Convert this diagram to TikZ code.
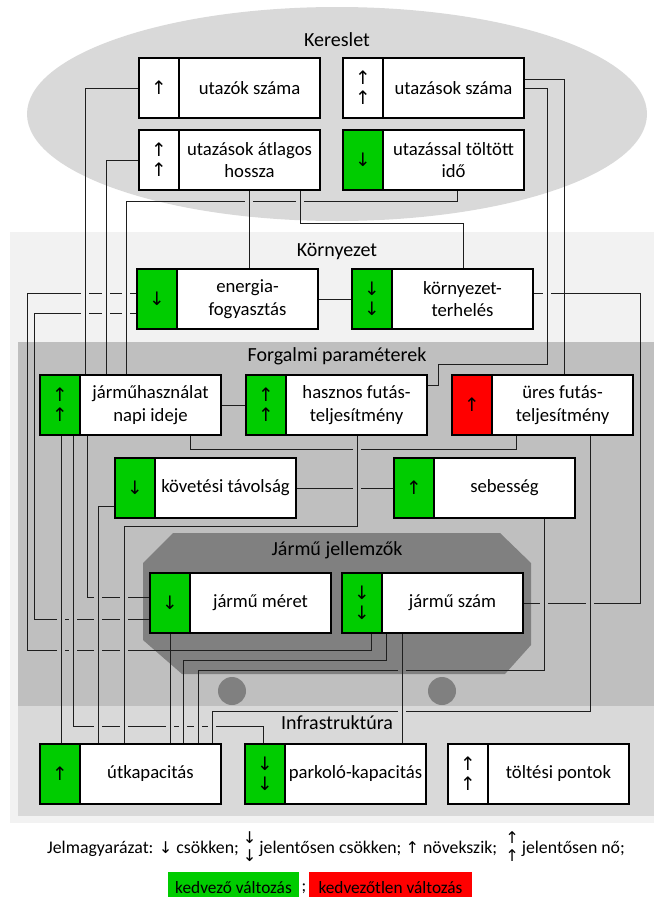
\documentclass[tikz,border=0pt]{standalone}
\usepackage{fontspec}
\setmainfont{Carlito}
\newfontfamily\arw[Scale=1.2]{DejaVu Sans}
\usetikzlibrary{calc}
\pgfdeclarelayer{back}
\pgfdeclarelayer{wires}
\pgfsetlayers{back,wires,main}

\definecolor{fav}{RGB}{0,204,0}
\definecolor{unfav}{RGB}{255,0,0}
\definecolor{demandbg}{RGB}{217,217,217}
\definecolor{envbg}{RGB}{242,242,242}
\definecolor{trafbg}{RGB}{191,191,191}
\definecolor{infbg}{RGB}{217,217,217}
\definecolor{vehbg}{RGB}{128,128,128}
\definecolor{linkcol}{RGB}{30,30,30}

\newcommand\upa{{\arw ↑}}
\newcommand\dna{{\arw ↓}}
% smaller arrows for the key line
\newcommand\kupa{{\fontsize{13.5}{18}\arw ↑}}
\newcommand\kdna{{\fontsize{13.5}{18}\arw ↓}}
\newcommand\arrowstack[2]{\begin{tabular}{@{}c@{}}#1\\[-2pt]#2\end{tabular}}

\tikzset{
  factor/.style={draw=black, line width=1.1pt, fill=white, minimum width=181pt,
    minimum height=60pt, anchor=north west, inner sep=0pt, outer sep=0pt},
  ftext/.style={font=\fontsize{18.7}{22.5}\selectfont, align=center, inner sep=0pt},
  trendmark/.style={font=\fontsize{15.5}{20}\arw, align=center, inner sep=0pt},
  bandtitle/.style={font=\fontsize{20}{24}\selectfont, inner sep=0pt},
  link/.style={draw=linkcol, line width=1pt},
  legtext/.style={font=\fontsize{17.8}{20}\selectfont, inner sep=0pt},
  legbox/.style={font=\fontsize{17.3}{20}\selectfont, inner sep=0pt},
}

% one factor: name, top-left x, top-left y, marker fill, trend arrows, label
\newcommand\factorbox[6]{%
  \node[factor] (#1) at (#2,#3) {};
  \fill[#4] (#1.north west) rectangle ($(#1.south west)+(40,0)$);
  \draw[line width=1.1pt] (#1.north west) rectangle (#1.south east);
  \draw[line width=1.1pt] ($(#1.north west)+(40,0)$) -- ($(#1.south west)+(40,0)$);
  \node[trendmark] at ($(#1.west)+(20,0)$) {#5};
  \node[ftext] at ($(#1.center)+(20,0)$) {#6};
}

% break a horizontal link where a vertical link passes over it
\newcommand\wirehop[3]{%
  \fill[#3] (#1-4,#2-1.7) rectangle (#1+4,#2+1.7);
  \draw[link] (#1,#2-4) -- (#1,#2+4);
}

\begin{document}
\begin{tikzpicture}[x=1pt,y=-1pt]
\useasboundingbox (0,0) rectangle (654,897);

% ---------- regions ----------
\begin{pgfonlayer}{back}
  \fill[demandbg] (337,114) ellipse [x radius=310, y radius=107];
  \fill[envbg] (10,232) rectangle (654,823);
  \fill[trafbg] (18,342) rectangle (654,706);
  \fill[infbg] (18,706) rectangle (654,816);
  \fill[vehbg] (173,533) -- (500,533) -- (531,563) -- (531,645) -- (505,674)
    -- (182,674) -- (143,640) -- (143,563) -- cycle;
  \fill[vehbg] (232,691) circle [radius=14];
  \fill[vehbg] (442,691) circle [radius=14];
\end{pgfonlayer}

\node[bandtitle] (tdemand) at (337,40) {Kereslet};
\node[bandtitle] (tenv) at (337,251) {Környezet};
\node[bandtitle] (ttraffic) at (337,356) {Forgalmi paraméterek};
\node[bandtitle] (tvehicle) at (337,550) {Jármű jellemzők};
\node[bandtitle] (tinfra) at (337,723) {Infrastruktúra};

% ---------- factors ----------
\factorbox{uszam}{139}{58}{white}{\upa}{utazók száma}
\factorbox{uaszam}{343}{58}{white}{\upa\\\upa}{utazások száma}
\factorbox{hossz}{139}{130}{white}{\upa\\\upa}{utazások átlagos\\hossza}
\factorbox{ido}{343}{130}{fav}{\dna}{utazással töltött\\idő}
\factorbox{energia}{137}{269}{fav}{\dna}{energia-\\fogyasztás}
\factorbox{kornyezet}{352}{269}{fav}{\dna\\\dna}{környezet-\\terhelés}
\factorbox{hasznalat}{40}{375}{fav}{\upa\\\upa}{járműhasználat\\napi ideje}
\factorbox{hasznos}{246}{375}{fav}{\upa\\\upa}{hasznos futás-\\teljesítmény}
\factorbox{ures}{452}{375}{unfav}{\upa}{üres futás-\\teljesítmény}
\factorbox{kovetesi}{115}{458}{fav}{\dna}{követési távolság}
\factorbox{sebesseg}{394}{458}{fav}{\upa}{sebesség}
\factorbox{meret}{150}{573}{fav}{\dna}{jármű méret}
\factorbox{szam}{342}{573}{fav}{\dna\\\dna}{jármű szám}
\factorbox{utkap}{40}{744}{fav}{\upa}{útkapacitás}
\factorbox{parkolo}{245}{744}{fav}{\dna\\\dna}{parkoló-kapacitás}
\factorbox{toltesi}{448}{744}{white}{\upa\\\upa}{töltési pontok}

% ---------- links ----------
\begin{pgfonlayer}{wires}
  \draw[link] (uszam.west) -| ($(hasznalat.north west)+(45,0)$);
  \draw[link] (hossz.west) -| ($(hasznalat.north west)+(66,0)$);
  \draw[link] ($(ido.south west)+(114,0)$) -- ++(0,11) -| ($(hasznalat.north west)+(86,0)$);
  \draw[link] ($(hossz.south west)+(110,0)$) -- ($(energia.north west)+(112,0)$);
  \draw[link] ($(hossz.south west)+(161,0)$) |- (463,223) -- ($(kornyezet.north west)+(111,0)$);
  \draw[link] (energia.east) -- (kornyezet.west);
  \draw[link] ($(energia.west)+(0,-6)$) -| (27,650) -| ($(szam.south west)+(29,0)$);
  \draw[link] ($(energia.west)+(0,14)$) -| (34,619) -- ($(meret.west)+(0,16)$);
  \draw[link] ($(kornyezet.east)+(0,-6)$) -| (640,603) -- (szam.east);
  \draw[link] ($(uaszam.east)+(0,-9)$) -| ($(ures.north west)+(112,0)$);
  \draw[link] (uaszam.east) -| (547,364) -| (438,385) -- ($(hasznos.east)+(0,-20)$);
  \draw[link] (hasznalat.east) -- (hasznos.west);
  \draw[link] ($(hasznalat.south west)+(150,0)$) |- (516,449) -- ($(ures.south west)+(64,0)$);
  \draw[link] ($(hasznos.south west)+(111,0)$) |- (124,526) -- ($(utkap.north west)+(84,0)$);
  \draw[link] (kovetesi.east) -- (sebesseg.west);
  \draw[link] ($(kovetesi.west)+(0,18)$) -| ($(utkap.north west)+(58,0)$);
  \draw[link] ($(sebesseg.south west)+(150,0)$) |- (198,670) -- ($(utkap.north west)+(158,0)$);
  \draw[link] ($(ures.south west)+(138,0)$) |- (212,711) -- ($(utkap.north west)+(172,0)$);
  \draw[link] ($(hasznalat.south west)+(21,0)$) -- ($(utkap.north west)+(21,0)$);
  \draw[link] ($(hasznalat.south west)+(33,0)$) |- (263,726) -- ($(parkolo.north west)+(18,0)$);
  \draw[link] ($(hasznalat.south west)+(47,0)$) |- ($(meret.west)+(0,-6)$);
  \draw[link] ($(meret.south west)+(20,0)$) -- ($(utkap.north west)+(130,0)$);
  \draw[link] ($(szam.south west)+(44,0)$) |- (183,660) -- ($(utkap.north west)+(143,0)$);
  \draw[link] ($(szam.south west)+(60,0)$) -- ($(parkolo.north west)+(157,0)$);

  % crossings
  \wirehop{249}{201}{demandbg}\wirehop{300}{201}{demandbg}
  \wirehop{85}{293}{envbg}\wirehop{106}{293}{envbg}\wirehop{126}{293}{envbg}
  \wirehop{547}{293}{envbg}
  \wirehop{85}{313}{envbg}\wirehop{106}{313}{envbg}\wirehop{126}{313}{envbg}
  \wirehop{357}{449}{trafbg}\wirehop{357}{488}{trafbg}
  \wirehop{98}{597}{trafbg}\wirehop{124}{597}{trafbg}
  \wirehop{61}{619}{trafbg}\wirehop{73}{619}{trafbg}\wirehop{98}{619}{trafbg}\wirehop{124}{619}{trafbg}
  \wirehop{544}{603}{trafbg}\wirehop{590}{603}{trafbg}
  \wirehop{61}{650}{trafbg}\wirehop{73}{650}{trafbg}\wirehop{98}{650}{trafbg}\wirehop{124}{650}{trafbg}
  \wirehop{402}{670}{vehbg}
  \wirehop{402}{711}{infbg}
  \wirehop{98}{726}{infbg}\wirehop{124}{726}{infbg}\wirehop{170}{726}{infbg}
  \wirehop{183}{726}{infbg}\wirehop{198}{726}{infbg}\wirehop{212}{726}{infbg}
\end{pgfonlayer}

% ---------- legend ----------
\node[legtext, anchor=base west] (legend) at (47,853)
  {Jelmagyarázat: \kdna{} csökken; \arrowstack{\kdna}{\kdna}\,jelentősen csökken; \kupa{} növekszik;\ \ \arrowstack{\kupa}{\kupa}\,jelentősen nő;};
\fill[fav] (168,872) rectangle (299,897);
\fill[unfav] (309,872) rectangle (472,897);
\node[legbox] (good) at (233.5,888) {kedvező változás};
\node[legbox] (sep) at (304,889) {;};
\node[legbox] (bad) at (390.5,888) {kedvezőtlen változás};
\end{tikzpicture}
\end{document}
